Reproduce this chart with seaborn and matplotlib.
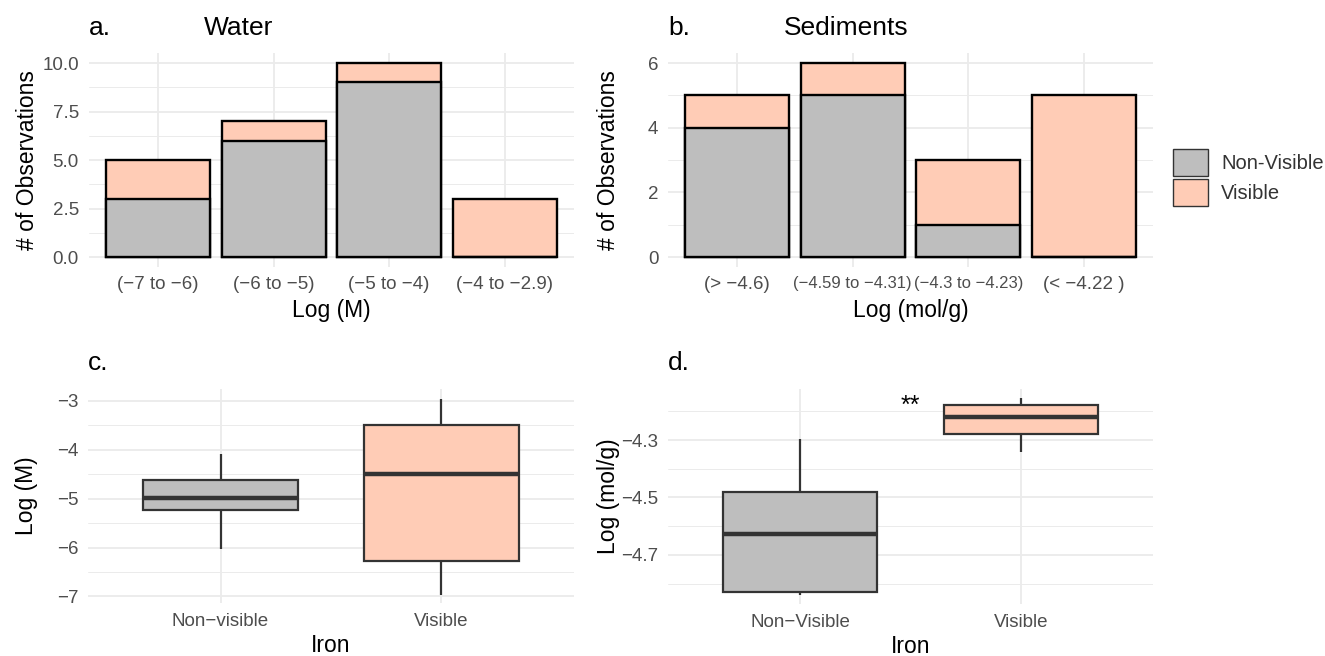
import matplotlib
matplotlib.use("Agg")
import matplotlib.pyplot as plt
import seaborn as sns
import pandas as pd
from matplotlib.patches import Patch
from matplotlib.ticker import MultipleLocator, FixedLocator, FuncFormatter

# bar panels: counts per concentration bin
water_bins = ["(−7 to −6)", "(−6 to −5)", "(−5 to −4)", "(−4 to −2.9)"]
water_nonvisible = [3, 6, 9, 0]
water_visible = [2, 1, 1, 3]

sed_bins = ["(> −4.6)", "(−4.59 to −4.31)", "(−4.3 to −4.23)", "(< −4.22 )"]
sed_nonvisible = [4, 5, 1, 0]
sed_visible = [1, 1, 2, 5]

# box panels: min, q1, median, q3, max
water_iron = ["Non−visible", "Visible"]
water_box_nonvisible = [-6.03, -5.24, -4.98, -4.61, -4.09]
water_box_visible = [-6.97, -6.27, -4.50, -3.49, -2.95]

sed_iron = ["Non−Visible", "Visible"]
sed_box_nonvisible = [-4.84, -4.83, -4.626, -4.482, -4.296]
sed_box_visible = [-4.342, -4.279, -4.219, -4.179, -4.152]

grey = "#BEBEBE"
peach = "#FFCCB6"
tick_col = "#4D4D4D"
grid_col = "#EBEBEB"

sns.set_style("white")
plt.rcParams["font.family"] = ["Liberation Sans", "DejaVu Sans"]
plt.rcParams["text.color"] = "black"
plt.rcParams["axes.labelcolor"] = "black"

fig = plt.figure(figsize=(13.25, 6.56), dpi=100)
ax_a = fig.add_axes([0.0669, 0.5934, 0.3663, 0.3253])
ax_b = fig.add_axes([0.5042, 0.5934, 0.3660, 0.3253])
ax_c = fig.add_axes([0.0664, 0.0808, 0.3668, 0.3262])
ax_d = fig.add_axes([0.5042, 0.0793, 0.3660, 0.3277])

one_dec = FuncFormatter(lambda v, pos: f"{v:.1f}".replace("-", "−"))


def style_axes(ax, n):
    for s in ax.spines.values():
        s.set_visible(False)
    ax.set_xlim(-0.6, n - 0.4)
    ax.grid(True, which="major", color=grid_col, linewidth=1.3)
    ax.grid(True, which="minor", axis="y", color=grid_col, linewidth=0.7)
    ax.set_axisbelow(True)
    ax.tick_params(which="both", length=0, colors=tick_col, labelsize=13.5, pad=7)


def stacked(ax, bins, nonvis, vis):
    totals = [a + b for a, b in zip(nonvis, vis)]
    sns.barplot(x=bins, y=totals, color=peach, saturation=1, width=0.9,
                edgecolor="black", linewidth=1.7, errorbar=None, ax=ax)
    sns.barplot(x=bins, y=nonvis, color=grey, saturation=1, width=0.9,
                edgecolor="black", linewidth=1.7, errorbar=None, ax=ax)


def boxes(ax, groups, lo, hi):
    df = pd.DataFrame({"Iron": [groups[0]] * len(lo) + [groups[1]] * len(hi),
                       "value": lo + hi})
    sns.boxplot(data=df, x="Iron", y="value", hue="Iron", palette=[grey, peach],
                saturation=1, width=0.7, whis=(0, 100), linewidth=1.6,
                linecolor="#333333", showcaps=False, legend=False,
                medianprops={"linewidth": 3.2}, ax=ax)


def titles(ax, letter, name=None):
    ax.text(0, 1.087, letter, transform=ax.transAxes, fontsize=19, va="baseline", ha="left")
    if name:
        ax.text(0.238, 1.087, name, transform=ax.transAxes, fontsize=19, va="baseline", ha="left")


# a. Water
stacked(ax_a, water_bins, water_nonvisible, water_visible)
style_axes(ax_a, 4)
ax_a.set_ylim(-0.5, 10.5)
ax_a.yaxis.set_major_locator(MultipleLocator(2.5))
ax_a.yaxis.set_minor_locator(MultipleLocator(1.25))
ax_a.yaxis.set_major_formatter(one_dec)
ax_a.set_xlabel("Log (M)", fontsize=16.5, va="center")
ax_a.set_ylabel("# of Observations", fontsize=16.5, va="center")
ax_a.xaxis.set_label_coords(0.5, -0.205)
ax_a.yaxis.set_label_coords(-0.127, 0.5)
titles(ax_a, "a.", "Water")

# b. Sediments
stacked(ax_b, sed_bins, sed_nonvisible, sed_visible)
style_axes(ax_b, 4)
ax_b.set_ylim(-0.3, 6.3)
ax_b.yaxis.set_major_locator(MultipleLocator(2))
ax_b.yaxis.set_minor_locator(MultipleLocator(1))
for lab in ax_b.get_xticklabels():
    lab.set_fontsize(12 if len(lab.get_text()) > 11 else 13.5)
ax_b.set_xlabel("Log (mol/g)", fontsize=16.5, va="center")
ax_b.set_ylabel("# of Observations", fontsize=16.5, va="center")
ax_b.xaxis.set_label_coords(0.5, -0.205)
ax_b.yaxis.set_label_coords(-0.122, 0.5)
titles(ax_b, "b.", "Sediments")

# c. Water boxplot
boxes(ax_c, water_iron, water_box_nonvisible, water_box_visible)
style_axes(ax_c, 2)
ax_c.set_ylim(-7.133, -2.755)
ax_c.yaxis.set_major_locator(MultipleLocator(1))
ax_c.yaxis.set_minor_locator(MultipleLocator(0.5))
ax_c.set_xlabel("Iron", fontsize=16.5, va="center")
ax_c.set_ylabel("Log (M)", fontsize=16.5, va="center")
ax_c.xaxis.set_label_coords(0.5, -0.2)
ax_c.yaxis.set_label_coords(-0.127, 0.5)
titles(ax_c, "c.")

# d. Sediment boxplot
boxes(ax_d, sed_iron, sed_box_nonvisible, sed_box_visible)
style_axes(ax_d, 2)
ax_d.set_ylim(-4.871, -4.122)
ax_d.yaxis.set_major_locator(FixedLocator([-4.7, -4.5, -4.3]))
ax_d.yaxis.set_minor_locator(FixedLocator([-4.8, -4.6, -4.4, -4.2]))
ax_d.yaxis.set_major_formatter(one_dec)
ax_d.set_xlabel("Iron", fontsize=16.5, va="center")
ax_d.set_ylabel("Log (mol/g)", fontsize=16.5, va="center")
ax_d.xaxis.set_label_coords(0.5, -0.2)
ax_d.yaxis.set_label_coords(-0.122, 0.5)
ax_d.text(0.5, -4.205, "**", fontsize=18, ha="center", va="baseline")
titles(ax_d, "d.")

handles = [Patch(facecolor=grey, edgecolor="#333333", linewidth=1.0),
           Patch(facecolor=peach, edgecolor="#333333", linewidth=1.0)]
fig.legend(handles, ["Non-Visible", "Visible"], loc="center left",
           bbox_to_anchor=(0.8853, 0.7294), frameon=False, fontsize=14.5,
           handlelength=1.75, handleheight=1.65, labelspacing=0.15,
           handletextpad=0.65, borderpad=0, borderaxespad=0, labelcolor="#333333")

fig.savefig("out.png", dpi=100)
